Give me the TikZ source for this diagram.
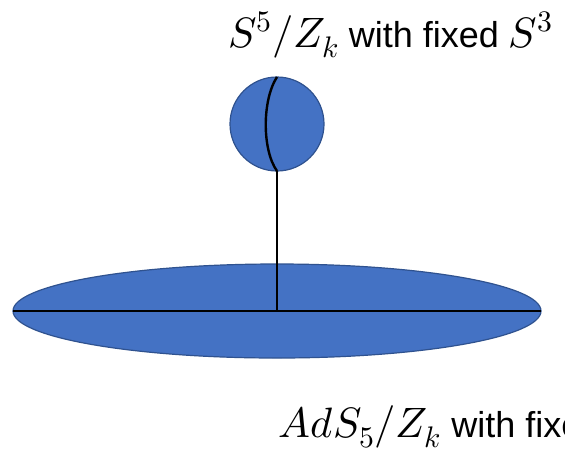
\documentclass[tikz,border=0pt]{standalone}
\usepackage{unicode-math}
\setmainfont{Liberation Sans}
\setmathfont[Scale=1.18]{Latin Modern Math}
\definecolor{fillblue}{HTML}{4472C4}
\definecolor{edgeblue}{HTML}{2F528F}
\begin{document}
\begin{tikzpicture}[x=1pt,y=-1pt,
  bluebody/.style={fill=fillblue,draw=edgeblue,line width=1.2pt},
  bar/.style={draw=black,line width=2.8pt},
  lbl/.style={font=\fontsize{36}{42}\selectfont,anchor=base west,inner sep=0pt}]
\useasboundingbox (0,0) rectangle (565,451);
\clip (0,0) rectangle (565,451);
\fill[white] (0,0) rectangle (565,451);
\coordinate (ec) at (277,311);
\coordinate (el) at (13,311);
\coordinate (er) at (541,311);
\coordinate (ct) at (277,77);
\coordinate (cb) at (277,171);
\draw[bluebody] (ec) ellipse [x radius=264, y radius=47];
\draw[bluebody] (277,124) circle [radius=47];
\draw[bar,line width=2.4pt] (ct) .. controls (262,100) and (262,150) .. (cb);
\draw[bar] (cb) -- (ec);
\draw[bar] (el) -- (er);
\node[lbl] (top) at (228,47) {$S^5/Z_k$ with fixed $S^3$};
\node[lbl] (bot) at (278,437) {$AdS_5/Z_k$ with fixed $S^3$};
\end{tikzpicture}
\end{document}
